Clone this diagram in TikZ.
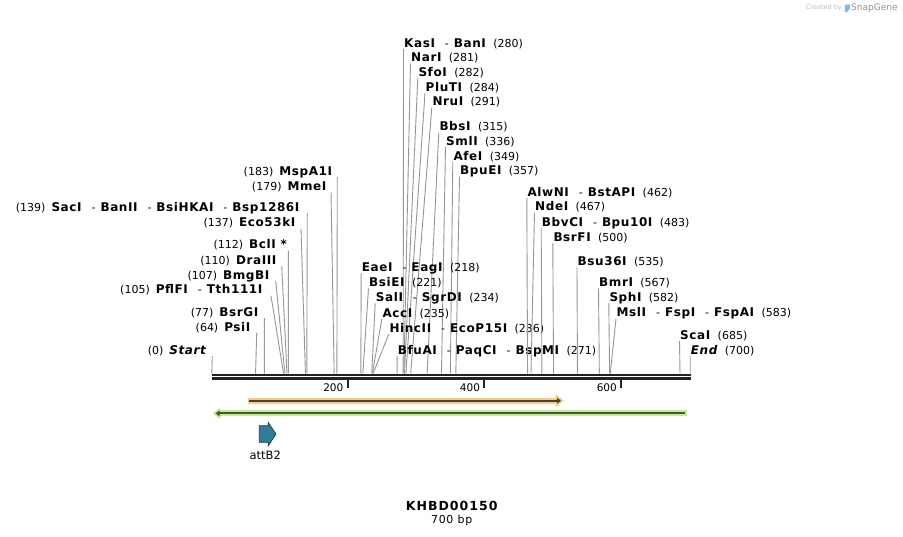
\documentclass[tikz,border=0pt]{standalone}
\usepackage{fontspec}
\setmainfont{DejaVu Sans}
\newfontfamily\lblbold[LetterSpace=5]{DejaVu Sans Bold}
\newfontfamily\lblboldit[LetterSpace=5]{DejaVu Sans Bold Oblique}
\newfontfamily\lblreg{DejaVu Sans}
\newfontfamily\titlebold[LetterSpace=8]{DejaVu Sans Bold}
\newfontfamily\subreg[LetterSpace=6]{DejaVu Sans}
\usetikzlibrary{arrows.meta}
\definecolor{cutgray}{RGB}{150,150,150}
\definecolor{rulerc}{RGB}{34,34,34}
\definecolor{orfill}{RGB}{250,202,125}
\definecolor{grfill}{RGB}{192,242,140}
\definecolor{bardark}{RGB}{64,64,64}
\definecolor{grdark}{RGB}{72,84,60}
\definecolor{featteal}{RGB}{46,126,152}
\definecolor{featline}{RGB}{28,58,72}
\definecolor{logoblue}{RGB}{120,185,235}
\newcommand{\enz}[1]{{\lblbold\fontsize{12}{14}\selectfont #1\kern-0.6pt}}
\newcommand{\enzit}[1]{{\lblboldit\fontsize{12}{14}\selectfont #1\kern-0.6pt}}
\newcommand{\sepr}{\hspace{10.5pt}{\lblreg\fontsize{11}{12}\selectfont -}\hspace{5pt}}
\newcommand{\posr}[1]{\hspace{8pt}{\lblreg\fontsize{11}{12}\selectfont (#1)}}
\newcommand{\posl}[1]{{\lblreg\fontsize{11}{12}\selectfont (#1)}\hspace{6pt}}
\tikzset{
  rlab/.style={anchor=west, inner sep=0pt, text height=10.4pt, text depth=1.6pt},
  llab/.style={anchor=east, inner sep=0pt, text height=10.4pt, text depth=1.6pt},
  cutline/.style={draw=cutgray, line width=0.9pt},
  ticklab/.style={anchor=east, inner sep=0pt, font=\lblreg\fontsize{10.5}{12}\selectfont},
}
% right-hand label: name, x start, y centre, bp, text
\newcommand{\RL}[5]{%
  \node[rlab] (#1) at (#2,#3) {#5};
  \coordinate (#1-s) at ({211.8+0.6835*#4},373.5);
  \draw[cutline] ([xshift=-0.5pt]#1.south west) -- (#1-s);
}
% left-hand label: name, x end, y centre, bp, gap, text
\newcommand{\LL}[6]{%
  \node[llab] (#1) at (#2,#3) {#6};
  \coordinate (#1-s) at ({211.8+0.6835*#4},373.5);
  \draw[cutline] ([xshift=#5pt]#1.south east) -- (#1-s);
}
\begin{document}
\begin{tikzpicture}[x=1pt,y=-1pt]
\useasboundingbox[fill=white] (0,0) rectangle (903,537);

% watermark
\node[anchor=east, inner sep=0pt, text=black!25] (cby) at (842,8) {\fontsize{6.5}{7}\selectfont Created by};
\fill[logoblue] (845.2,4.6) -- (849.8,4.6) -- (849.8,8.6) -- (847.2,11.8) -- (845.2,11.8) -- cycle;
\node[anchor=west, inner sep=0pt, text=black!42] (sgene) at (851,8) {\fontsize{9}{10}\selectfont SnapGene};

% top cluster
\RL{kasi}{404}{42.8}{280}{\enz{KasI}\sepr\enz{BanI}\posr{280}}
\RL{nari}{411}{57.3}{281}{\enz{NarI}\posr{281}}
\RL{sfoi}{418.3}{72}{282}{\enz{SfoI}\posr{282}}
\RL{pluti}{425.5}{86.8}{284}{\enz{PluTI}\posr{284}}
\RL{nrui}{432.3}{101.5}{291}{\enz{NruI}\posr{291}}
\RL{bbsi}{439.3}{126.5}{315}{\enz{BbsI}\posr{315}}
\RL{smli}{446}{141}{336}{\enz{SmlI}\posr{336}}
\RL{afei}{453.3}{155.8}{349}{\enz{AfeI}\posr{349}}
\RL{bpuei}{460}{170.5}{357}{\enz{BpuEI}\posr{357}}

% middle cluster
\RL{eaei}{361.7}{267}{218}{\enz{EaeI}\sepr\enz{EagI}\posr{218}}
\RL{bsiei}{369}{282.2}{221}{\enz{BsiEI}\posr{221}}
\RL{sali}{375.7}{297.2}{234}{\enz{SalI}\sepr\enz{SgrDI}\posr{234}}
\RL{acci}{382.3}{312.8}{235}{\enz{AccI}\posr{235}}
\RL{hincii}{389.3}{327.8}{236}{\enz{HincII}\sepr\enz{EcoP15I}\posr{236}}
\RL{bfuai}{397.7}{350}{271}{\enz{BfuAI}\sepr\enz{PaqCI}\sepr\enz{BspMI}\posr{271}}

% right cluster
\RL{alwni}{527.3}{192}{462}{\enz{AlwNI}\sepr\enz{BstAPI}\posr{462}}
\RL{ndei}{535}{206.5}{467}{\enz{NdeI}\posr{467}}
\RL{bbvci}{541.7}{222}{483}{\enz{BbvCI}\sepr\enz{Bpu10I}\posr{483}}
\RL{bsrfi}{553.3}{237}{500}{\enz{BsrFI}\posr{500}}
\RL{bsu36i}{577.5}{261}{535}{\enz{Bsu36I}\posr{535}}
\RL{bmri}{599}{282}{567}{\enz{BmrI}\posr{567}}
\RL{sphi}{609.3}{297}{582}{\enz{SphI}\posr{582}}
\RL{msli}{616.5}{312.5}{583}{\enz{MslI}\sepr\enz{FspI}\sepr\enz{FspAI}\posr{583}}
\RL{scai}{680}{335}{685}{\enz{ScaI}\posr{685}}
\RL{endl}{690.7}{350}{700}{\enzit{End}\posr{700}}

% left cluster
\LL{mspa}{331.7}{171}{183}{5.6}{\posl{183}\enz{MspA1I}}
\LL{mmei}{326}{186.3}{179}{5}{\posl{179}\enz{MmeI}}
\LL{saci}{299}{207.3}{139}{8.3}{\posl{139}\enz{SacI}\sepr\enz{BanII}\sepr\enz{BsiHKAI}\sepr\enz{Bsp1286I}}
\LL{eco}{295}{222.3}{137}{6}{\posl{137}\enz{Eco53kI}}
\LL{bcli}{286.5}{244.5}{112}{1.8}{\posl{112}\enz{BclI *}}
\LL{dra}{276}{259.7}{110}{5.7}{\posl{110}\enz{DraIII}}
\LL{bmg}{269}{274.7}{107}{6.7}{\posl{107}\enz{BmgBI}}
\LL{pfl}{262}{289.5}{105}{9}{\posl{105}\enz{PflFI}\sepr\enz{Tth111I}}
\LL{bsrg}{258}{311.8}{77}{6.3}{\posl{77}\enz{BsrGI}}
\LL{psi}{250}{326.7}{64}{6.7}{\posl{64}\enz{PsiI}}
\LL{start}{205.5}{350}{0}{6.8}{\posl{0}\enzit{Start}}

% ruler
\draw[rulerc, line width=2.2pt] (211.8,374.7) -- (690.8,374.7);
\draw[rulerc, line width=2.8pt] (211.8,378.8) -- (690.8,378.8);
\draw[rulerc, line width=2pt] (347.7,380) -- (347.7,388.3);
\draw[rulerc, line width=2pt] (484.3,380) -- (484.3,388.3);
\draw[rulerc, line width=2pt] (621,380) -- (621,388.3);
\node[ticklab] (t200) at (343.5,387.5) {200};
\node[ticklab] (t400) at (480.2,387.5) {400};
\node[ticklab] (t600) at (617,387.5) {600};

% orange bar
\fill[orfill] (248.3,397.7) rectangle (556,403.7);
\fill[orfill] (555.5,394) -- (563.5,400.7) -- (555.5,407.3) -- cycle;
\draw[bardark, line width=1.8pt, -{Triangle[length=4pt,width=5.5pt]}] (249.3,400.7) -- (561,400.7);

% green bar
\fill[grfill] (219,410.4) rectangle (686.7,416.4);
\fill[grfill] (213,413.4) -- (220,407.6) -- (220,419.2) -- cycle;
\draw[grdark, line width=1.8pt, -{Triangle[length=4pt,width=5.5pt]}] (685,413.4) -- (215.5,413.4);

% attB2 feature
\filldraw[fill=featteal, draw=featline, line width=0.7pt]
  (259.3,425.7) -- (268.3,425.7) -- (268.3,422.5) -- (276,434) -- (268.3,445.7) -- (268.3,442.3) -- (259.3,442.3) -- cycle;
\node[inner sep=0pt] (attb2) at (265.2,455.5) {\lblreg\fontsize{11.5}{13}\selectfont attB2};

% title
\node[inner sep=0pt] (title) at (451.7,506) {\titlebold\fontsize{12.5}{14}\selectfont KHBD00150};
\node[inner sep=0pt] (size) at (451.7,520.3) {\subreg\fontsize{11}{12}\selectfont 700 bp};
\end{tikzpicture}
\end{document}
